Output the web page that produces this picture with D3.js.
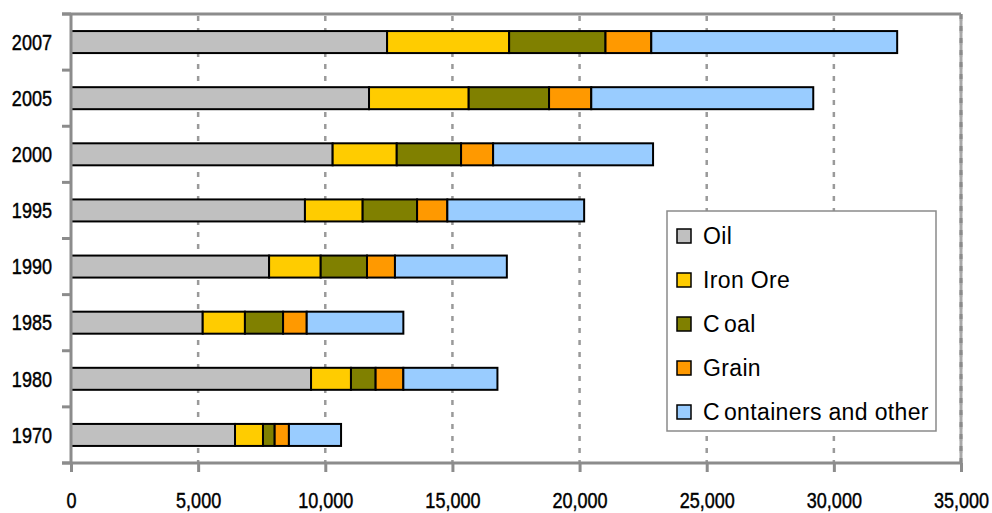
<!DOCTYPE html>
<html>
<head>
<meta charset="utf-8">
<script src="https://cdn.jsdelivr.net/npm/d3@7"></script>
<style>
  html, body { margin: 0; padding: 0; background: #fff; }
  svg { display: block; }
  text { font-family: "Liberation Sans", Arial, sans-serif; fill: #000; }
  .axis-label { stroke: #000; stroke-width: 0.45px; }
</style>
</head>
<body>
<svg id="chart" width="992" height="513"></svg>
<script>
// Seaborne trade by cargo type (billion ton-miles)
const years = ["2007", "2005", "2000", "1995", "1990", "1985", "1980", "1970"];
const cargoes = ["Oil", "Iron Ore", "Coal", "Grain", "Containers and other"];
const oil        = [12430, 11720, 10290, 9200, 7790, 5180, 9440, 6450];
const ironOre    = [4800, 3920, 2520, 2270, 2030, 1660, 1570, 1100];
const coal       = [3790, 3160, 2530, 2140, 1820, 1500, 970, 460];
const grain      = [1800, 1660, 1260, 1190, 1100, 930, 1090, 560];
const containers = [9670, 8730, 6290, 5380, 4400, 3800, 3700, 2050];
const xTicks = [0, 5000, 10000, 15000, 20000, 25000, 30000, 35000];
const colors = ["#C0C0C0", "#FFCC00", "#808000", "#FF9900", "#99CCFF"];

const seriesValues = [oil, ironOre, coal, grain, containers];
const rows = years.map((yr, i) => {
  const r = { year: yr };
  cargoes.forEach((c, k) => { r[c] = seriesValues[k][i]; });
  return r;
});

const svg = d3.select("#chart");
const plotLeft = 71, plotRight = 961, plotTop = 14, plotBottom = 463;
const narrow = "scale(0.82,1)";   // condensed axis lettering

const x = d3.scaleLinear().domain([0, 35000]).range([plotLeft, plotRight]);
const y = d3.scaleBand().domain(years).range([plotTop, plotBottom])
  .paddingInner(0.608).paddingOuter(0.304);

const axisGray = "#8c8c8c";

// dashed vertical gridlines
svg.append("g").selectAll("line").data(xTicks.slice(1)).join("line")
  .attr("x1", d => x(d)).attr("x2", d => x(d))
  .attr("y1", plotTop + 2).attr("y2", plotBottom)
  .attr("stroke", "#9a9a9a").attr("stroke-width", 2.5)
  .attr("stroke-dasharray", "5,7");

// plot frame: top and right edges
svg.append("line").attr("x1", plotLeft - 9).attr("x2", plotRight)
  .attr("y1", plotTop).attr("y2", plotTop)
  .attr("stroke", axisGray).attr("stroke-width", 3);
svg.append("line").attr("x1", plotRight).attr("x2", plotRight)
  .attr("y1", plotTop).attr("y2", plotBottom)
  .attr("stroke", "#a8a8a8").attr("stroke-width", 3);
svg.append("line").attr("x1", plotRight).attr("x2", plotRight)
  .attr("y1", plotTop).attr("y2", plotBottom)
  .attr("stroke", "#8a8a8a").attr("stroke-width", 3)
  .attr("stroke-dasharray", "5,7");

// stacked bars
const stack = d3.stack().keys(cargoes)(rows);
svg.append("g").selectAll("g").data(stack).join("g")
  .attr("fill", (d, i) => colors[i])
  .selectAll("rect").data(d => d).join("rect")
  .attr("x", d => x(d[0]))
  .attr("y", d => y(d.data.year))
  .attr("width", d => x(d[1]) - x(d[0]))
  .attr("height", y.bandwidth())
  .attr("stroke", "#000").attr("stroke-width", 2);

// x axis
const xAxis = d3.axisBottom(x).tickValues(xTicks)
  .tickFormat(d3.format(",")).tickSize(9).tickPadding(20);
const gx = svg.append("g").attr("transform", `translate(0,${plotBottom})`).call(xAxis);
gx.select(".domain").remove();
gx.selectAll(".tick line").attr("stroke", axisGray).attr("stroke-width", 3);
gx.selectAll(".tick text").attr("font-size", 22).attr("fill", "#000")
  .attr("class", "axis-label")
  .attr("transform", narrow)
  .style("font-family", "'Liberation Sans', Arial, sans-serif");
svg.append("line").attr("x1", plotLeft - 9).attr("x2", plotRight)
  .attr("y1", plotBottom).attr("y2", plotBottom)
  .attr("stroke", axisGray).attr("stroke-width", 3);

// y axis: ticks between categories, labels centred on bars
const step = y.step();
const boundaries = d3.range(years.length + 1).map(i => plotTop + i * step);
svg.append("g").selectAll("line").data(boundaries).join("line")
  .attr("x1", plotLeft - 9).attr("x2", plotLeft)
  .attr("y1", d => d).attr("y2", d => d)
  .attr("stroke", axisGray).attr("stroke-width", 3);
svg.append("line").attr("x1", plotLeft).attr("x2", plotLeft)
  .attr("y1", plotTop).attr("y2", plotBottom)
  .attr("stroke", axisGray).attr("stroke-width", 3);
svg.append("g").selectAll("g").data(years).join("g")
  .attr("transform", d => `translate(52,${y(d) + y.bandwidth() / 2}) ${narrow}`)
  .append("text")
  .attr("class", "axis-label")
  .attr("dy", "0.35em")
  .attr("text-anchor", "end")
  .attr("font-size", 22)
  .text(d => d);

// legend
const lg = svg.append("g").attr("transform", "translate(667,211)");
lg.append("rect").attr("width", 269).attr("height", 220)
  .attr("fill", "#fff").attr("stroke", "#8a8a8a").attr("stroke-width", 1.5);
const item = lg.selectAll("g").data(cargoes).join("g")
  .attr("transform", (d, i) => `translate(10,${25 + i * 44})`);
item.append("rect").attr("x", 0).attr("y", -7).attr("width", 14).attr("height", 14)
  .attr("fill", (d, i) => colors[i]).attr("stroke", "#000").attr("stroke-width", 1.5);
const label = item.append("text").attr("x", 26).attr("dy", "0.35em")
  .attr("font-size", 23).attr("letter-spacing", 0.35);
// names starting with "C" get a little room after the capital
label.each(function (d) {
  const t = d3.select(this);
  if (d.startsWith("C")) {
    t.append("tspan").text("C");
    t.append("tspan").attr("dx", 4).text(d.slice(1));
  } else {
    t.text(d);
  }
});
</script>
</body>
</html>
